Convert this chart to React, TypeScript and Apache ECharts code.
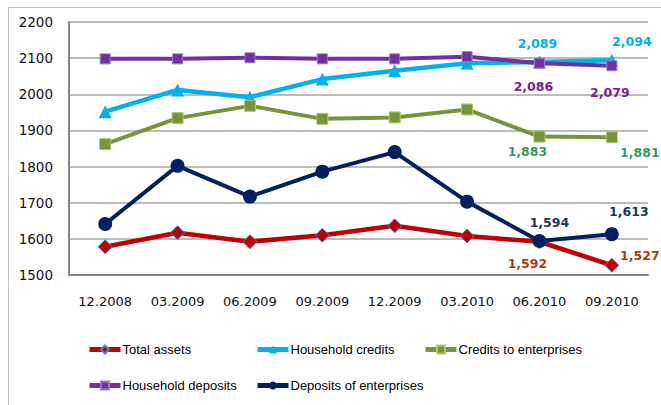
import React, { useEffect, useRef } from "react";
import * as echarts from "echarts";

const categories = ["12.2008", "03.2009", "06.2009", "09.2009", "12.2009", "03.2010", "06.2010", "09.2010"];
const totalAssets = [1578, 1617, 1592, 1610, 1636, 1608, 1592, 1527];
const householdCredits = [1952, 2012, 1992, 2042, 2065, 2086, 2089, 2094];
const creditsEnterprises = [1862, 1934, 1968, 1932, 1936, 1958, 1883, 1881];
const householdDeposits = [2098, 2098, 2101, 2098, 2098, 2104, 2086, 2079];
const depositsEnterprises = [1641, 1802, 1717, 1786, 1840, 1703, 1594, 1613];
const yTicks = { min: 1500, max: 2200, interval: 100 };

const fmt = (v: number) => v.toLocaleString("en-US");

function withLabels(values: number[], color: string, offsets: Record<number, [number, number]>) {
  return values.map((v, i) => {
    const off = offsets[i];
    if (!off) return v;
    return {
      value: v,
      label: {
        show: true,
        position: "inside",
        offset: off,
        formatter: fmt(v),
        color,
        fontFamily: "DejaVu Sans",
        fontWeight: "bold",
        fontSize: 12.5,
        align: "center",
        verticalAlign: "middle",
      },
    };
  });
}

export default function App() {
  const ref = useRef<HTMLDivElement>(null);
  useEffect(() => {
    if (!ref.current) return;
    const chart = echarts.init(ref.current, null, { renderer: "svg" });
    const legendBase = {
      itemWidth: 31,
      itemHeight: 10,
      lineStyle: { width: 5 },
      textStyle: {
        fontFamily: "Liberation Sans",
        fontSize: 13,
        color: "#000",
        padding: [0, 0, 0, -3],
      },
    };
    const option = {
      animation: false,
      backgroundColor: "#fff",
      grid: { left: 69, right: 13, top: 22, bottom: 130, containLabel: false },
      xAxis: {
        type: "category",
        data: categories,
        boundaryGap: true,
        axisLine: { show: true, lineStyle: { color: "#868686", width: 2 } },
        axisTick: { show: false },
        axisLabel: { fontFamily: "DejaVu Sans", fontSize: 13, color: "#111", margin: 20, interval: 0 },
      },
      yAxis: {
        type: "value",
        min: yTicks.min,
        max: yTicks.max,
        interval: yTicks.interval,
        axisLine: { show: true, lineStyle: { color: "#868686", width: 2 } },
        axisTick: { show: false },
        axisLabel: {
          fontFamily: "DejaVu Sans",
          fontSize: 13.5,
          color: "#111",
          margin: 16,
          formatter: (v: number) => String(v),
        },
        splitLine: { lineStyle: { color: "#A6A6A6", width: 1.5 } },
      },
      legend: [
        { ...legendBase, data: ["Total assets"], left: 82, top: 338 },
        { ...legendBase, data: ["Household credits"], left: 250, top: 338 },
        { ...legendBase, data: ["Credits to enterprises"], left: 418, top: 338 },
        { ...legendBase, data: ["Household deposits"], left: 82, top: 374 },
        { ...legendBase, data: ["Deposits of enterprises"], left: 250, top: 374 },
      ],
      graphic: [
        {
          type: "rect",
          shape: { x: 8.5, y: 7.5, width: 700, height: 500 },
          style: { fill: "none", stroke: "#BFBFBF", lineWidth: 1 },
          silent: true,
        },
      ],
      series: [
        {
          name: "Total assets",
          type: "line",
          data: withLabels(totalAssets, "#A8400E", { 6: [-12, 22], 7: [28, -10] }),
          symbol: "diamond",
          symbolSize: 14,
          lineStyle: { color: "#C00000", width: 4.5 },
          itemStyle: { color: "#C00000", borderColor: "#4F81BD", borderWidth: 1 },
        },
        {
          name: "Household credits",
          type: "line",
          data: withLabels(householdCredits, "#00B0F0", { 6: [-2, -19], 7: [20, -19] }),
          symbol: "triangle",
          symbolSize: 13,
          lineStyle: { color: "#00B0F0", width: 4.5 },
          itemStyle: { color: "#00B0F0" },
        },
        {
          name: "Credits to enterprises",
          type: "line",
          data: withLabels(creditsEnterprises, "#339966", { 6: [-12, 15], 7: [28, 15] }),
          symbol: "rect",
          symbolSize: 11,
          lineStyle: { color: "#77933C", width: 4 },
          itemStyle: { color: "#77933C", borderColor: "#A9C96A", borderWidth: 1 },
        },
        {
          name: "Household deposits",
          type: "line",
          data: withLabels(householdDeposits, "#7A1F8E", { 6: [-6, 23], 7: [-2, 27] }),
          symbol: "rect",
          symbolSize: 10,
          lineStyle: { color: "#7030A0", width: 4 },
          itemStyle: { color: "#7030A0", borderColor: "#9B7BC0", borderWidth: 1 },
        },
        {
          name: "Deposits of enterprises",
          type: "line",
          data: withLabels(depositsEnterprises, "#17375E", { 6: [10, -19], 7: [17, -23] }),
          symbol: "circle",
          symbolSize: 14,
          lineStyle: { color: "#002060", width: 4 },
          itemStyle: { color: "#002060" },
        },
      ],
    };
    chart.setOption(option as any);
    return () => chart.dispose();
  }, []);
  return (
    <div
      ref={ref}
      style={{ position: "fixed", left: 0, top: 0, width: 661, height: 405, background: "#fff" }}
    />
  );
}
